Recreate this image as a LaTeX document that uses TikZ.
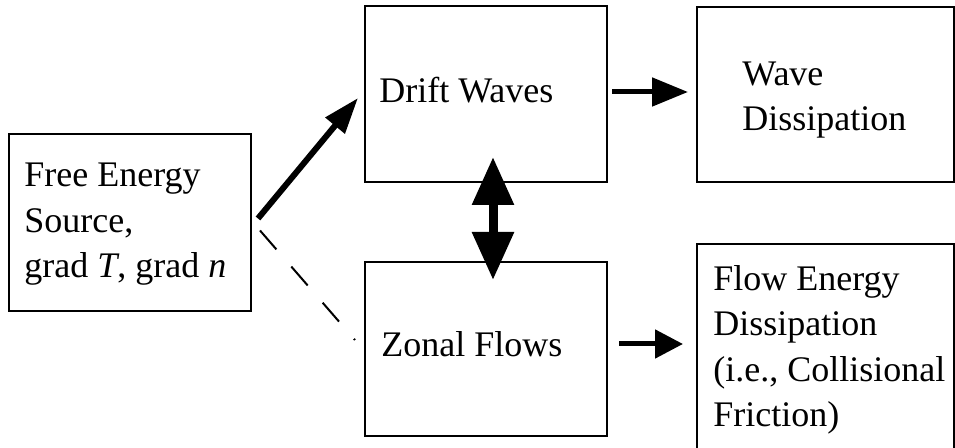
\documentclass[tikz,border=0pt]{standalone}
\usepackage{fontspec}
\setmainfont{Liberation Serif}
\usetikzlibrary{arrows.meta}
\begin{document}
\begin{tikzpicture}[x=0.5pt,y=-0.5pt,
  box/.style={draw, line width=1pt, rectangle, inner sep=0pt, outer sep=0pt, anchor=north west},
  txt/.style={anchor=base west, inner sep=0pt, align=left, font=\fontsize{18pt}{22.75pt}\selectfont},
  arr/.style={line width=2.5pt, -{Triangle[length=18pt,width=14pt]}},
  dbl/.style={line width=4.5pt, {Triangle[length=24pt,width=20pt]}-{Triangle[length=24pt,width=20pt]}},
  dashline/.style={line width=1pt, dash pattern=on 12.5pt off 11.4pt},
  ]
\useasboundingbox (0,0) rectangle (955,448);
% boxes
\node[box, minimum width=121pt, minimum height=88.5pt] (fes) at (9,134) {};
\node[box, minimum width=121pt, minimum height=88pt] (dw) at (365,6) {};
\node[box, minimum width=128.5pt, minimum height=87.5pt] (wd) at (697,7) {};
\node[box, minimum width=121pt, minimum height=87pt] (zf) at (365,262) {};
\node[box, minimum width=128.5pt, minimum height=110pt] (fe) at (697,244) {};
% texts (anchor = baseline of last line)
\node[txt] (fesT) at (24,278) {Free Energy\\Source,\\grad \textit{T}, grad \textit{n}};
\node[txt] (dwT) at (379,103) {Drift Waves};
\node[txt] (wdT) at (742,131) {Wave\\Dissipation};
\node[txt] (zfT) at (381,357) {Zonal Flows};
\node[txt] (feT) at (713,427) {Flow Energy\\Dissipation\\(i.e., Collisional\\Friction)};
% connectors
\draw[line width=3pt, -{Triangle[length=18pt,width=12pt]}] ([shift={(7,-4)}]fes.east) -- ([shift={(-7,4)}]dw.west);
\draw[dashline] ([shift={(9,8)}]fes.east) -- ([shift={(-10,-9)}]zf.west);
\draw[arr] ([shift={(5,-2)}]dw.east) -- ([shift={(-9,-2)}]dw.east -| wd.west);
\draw[arr, -{Triangle[length=14pt,width=14pt]}] ([shift={(12,-5)}]zf.east) -- ([shift={(-14,-5)}]zf.east -| fe.west);
\draw[dbl] ([shift={(7,-25)}]dw.south) -- ([shift={(7,18)}]zf.north);
\end{tikzpicture}
\end{document}
